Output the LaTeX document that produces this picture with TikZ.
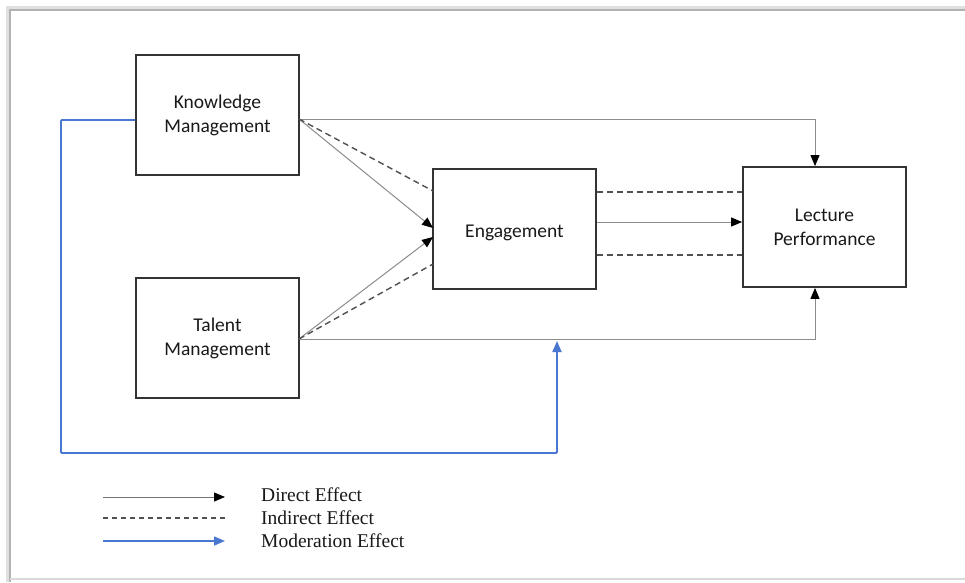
\documentclass[tikz,border=0pt]{standalone}
\usepackage{fontspec}
\setmainfont{Liberation Serif}
\newfontfamily\boxfont{Carlito}
\usetikzlibrary{arrows.meta}
\definecolor{boxline}{HTML}{333333}
\definecolor{direct}{HTML}{8C8C8C}
\definecolor{indirect}{HTML}{505050}
\definecolor{modblue}{HTML}{4A78D0}
\tikzset{
  concept/.style={draw=boxline, line width=1.8pt, fill=white, inner sep=0pt,
    font=\boxfont\fontsize{19.5}{24}\selectfont, text=black!90, align=center},
  directfx/.style={draw=direct, line width=1pt, -{Triangle[length=11pt,width=9pt,color=black]}},
  indirectfx/.style={draw=indirect, line width=1.4pt, dash pattern=on 6pt off 4pt},
  modfx/.style={draw=modblue, line width=1.8pt, -{Triangle[length=11pt,width=9pt]}},
  legendtext/.style={anchor=west, inner sep=0pt, font=\fontsize{19.5}{23}\selectfont, text=black!90}
}
\begin{document}
\begin{tikzpicture}[x=1pt,y=-1pt]
\useasboundingbox (0,0) rectangle (965,582);
\fill[white] (0,0) rectangle (965,582);
% frame (screenshot border)
\draw[black!12, line width=3pt] (7,582) -- (7,7) -- (965,7);
\draw[black!30, line width=1.2pt] (10,582) -- (10,10) -- (965,10);
\draw[black!15, line width=1.2pt] (10,579) -- (965,579);

% nodes
\node[concept, minimum width=163pt, minimum height=120pt] (km) at (217.5,115) {Knowledge\\Management};
\node[concept, minimum width=163pt, minimum height=120pt] (tm) at (217.5,338) {Talent\\Management};
\node[concept, minimum width=163pt, minimum height=120pt] (en) at (514.5,229) {\raisebox{-8pt}[0pt][0pt]{Engagement}};
\node[concept, minimum width=163pt, minimum height=120pt] (lp) at (824.5,227) {Lecture\\Performance};

% helper coordinates
\coordinate (kmo) at (299,119);
\coordinate (tmo) at (299,339);
\coordinate (ena) at (433,228);
\coordinate (enb) at (433,237);
\coordinate (enda) at (433,191);
\coordinate (endb) at (433,264);
\coordinate (kmcorner) at (815,119);
\coordinate (tmcorner) at (815,339);

% direct effects
\draw[directfx] (kmo) -- (kmcorner) -- (lp.north -| kmcorner);
\draw[directfx] (tmo) -- (tmcorner) -- (lp.south -| tmcorner);
\draw[directfx] (kmo) -- (ena);
\draw[directfx] (tmo) -- (enb);
\draw[directfx] (en.east |- 0,222) -- (lp.west |- 0,222);

% indirect effects
\draw[indirectfx] (kmo) -- (enda);
\draw[indirectfx] (tmo) -- (endb);
\draw[indirectfx] (en.east |- 0,192) -- (lp.west |- 0,192);
\draw[indirectfx] (en.east |- 0,255) -- (lp.west |- 0,255);

% moderation
\coordinate (m1) at (61,120);
\coordinate (m2) at (61,453);
\coordinate (m3) at (557,453);
\coordinate (m4) at (557,341);
\draw[modfx, rounded corners=1pt] (km.west |- m1) -- (m1) -- (m2) -- (m3) -- (m4);

% legend
\coordinate (la1) at (103,497); \coordinate (lb1) at (225,497);
\coordinate (la2) at (103,518); \coordinate (lb2) at (225,518);
\coordinate (la3) at (103,541); \coordinate (lb3) at (225,541);
\draw[directfx, draw=black!55] (la1) -- (lb1);
\draw[indirectfx, line width=1.1pt, dash pattern=on 5pt off 4pt] (la2) -- (lb2);
\draw[modfx, line width=1.5pt] (la3) -- (lb3);
\node[legendtext] (l1) at (261,495) {Direct Effect};
\node[legendtext] (l2) at (261,518) {Indirect Effect};
\node[legendtext] (l3) at (261,541) {Moderation Effect};
\end{tikzpicture}
\end{document}
